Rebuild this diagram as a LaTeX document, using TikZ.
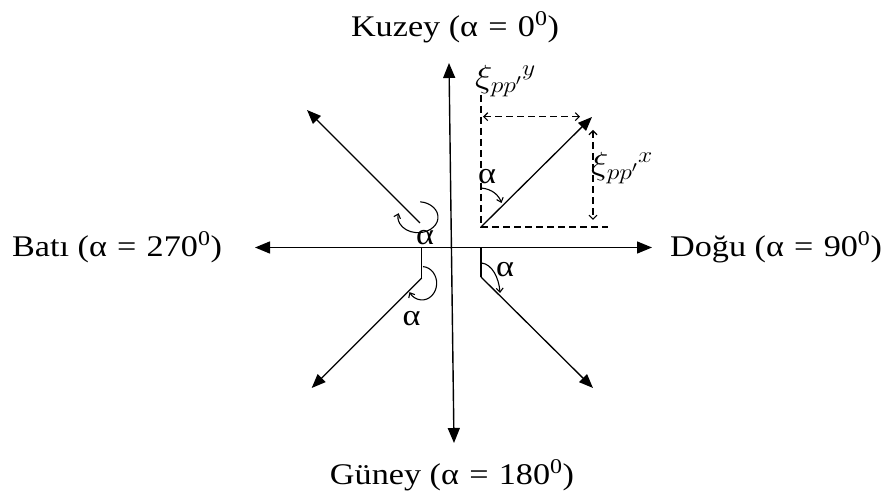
\RequirePackage{fix-cm}
\documentclass[tikz,border=0pt]{standalone}
\usepackage{fontspec}
\setmainfont{Liberation Serif}
\usetikzlibrary{arrows.meta}
\newcommand\myeq{\hspace{0.3em}=\hspace{0.3em}}
\tikzset{
  axisline/.style={line width=1.4pt,{Triangle[length=15pt,width=12pt]}-{Triangle[length=15pt,width=12pt]}},
  vecline/.style={line width=1.3pt,-{Triangle[length=14pt,width=11pt]}},
  plainline/.style={line width=1.3pt},
  dashline/.style={line width=1.1pt,dash pattern=on 7pt off 4pt},
  dimarrow/.style={dashline,{Straight Barb[length=4pt,width=8pt]}-{Straight Barb[length=4pt,width=8pt]}},
  anglearc/.style={line width=1.1pt,-{Straight Barb[length=4pt,width=7pt]}},
  lbl/.style={font=\fontsize{30}{36}\selectfont,inner sep=0pt,xscale=1.14},
  xilbl/.style={font=\fontsize{32}{38}\selectfont,inner sep=0pt,xscale=1.14,anchor=west},
}
\begin{document}
\begin{tikzpicture}[x=1pt,y=1pt]
\useasboundingbox (0,0) rectangle (887,492);
% axes
\coordinate (ntip) at (449,429);
\coordinate (stip) at (454,49);
\coordinate (wtip) at (255,244.5);
\coordinate (etip) at (652,244.5);
\draw[axisline] (wtip) -- (etip);
\draw[axisline] (stip) -- (ntip);
% direction labels
\node[lbl] (kuzey) at (455,464.5) {Kuzey (α\myeq 0\textsuperscript{0})};
\node[lbl] (guney) at (452,17) {Güney (α\myeq 180\textsuperscript{0})};
\node[lbl] (bati) at (117,244.5) {Batı (α\myeq 270\textsuperscript{0})};
\node[lbl] (dogu) at (776,244.5) {Doğu (α\myeq 90\textsuperscript{0})};
% NE vector with components
\coordinate (a0) at (481,265);
\coordinate (a1) at (592,375);
\coordinate (atop) at (481,397);
\coordinate (aright) at (608,265);
\coordinate (hl) at (483,375.3);
\coordinate (hr) at (580,375.3);
\coordinate (vt) at (593,362);
\coordinate (vb) at (593,272);
\draw[dashline] (atop) -- (a0) -- (aright);
\draw[vecline] (a0) -- (a1);
\draw[dimarrow] (hl) -- (hr);
\draw[dimarrow] (vt) -- (vb);
\node[xilbl] (xiy) at (475,411) {$\xi_{pp'}{}^{y}$};
\node[xilbl] (xix) at (591,324) {$\xi_{pp'}{}^{x}$};
\coordinate (nes) at (481,304);
\coordinate (nee) at (501.5,289);
\draw[anglearc] (nes) .. controls (493,303) and (499,296) .. (nee);
\node[lbl] (ane) at (487,315) {α};
% NW vector
\coordinate (b0) at (420,269);
\coordinate (b1) at (307,382);
\draw[vecline] (b0) -- (b1);
\draw[anglearc] (420.1,290.2) arc[start angle=84,end angle=-195,x radius=20,y radius=15.5];
\node[lbl] (anw) at (425,254) {α};
% SW vector
\coordinate (c00) at (421.7,244.5);
\coordinate (c0) at (421.7,214);
\coordinate (c1) at (311.7,104);
\draw[plainline] (c00) -- (c0);
\draw[vecline] (c0) -- (c1);
\draw[anglearc] (423,225.4) arc[start angle=86,end angle=-148,x radius=14.7,y radius=16.7];
\node[lbl] (asw) at (411.5,173.5) {α};
% SE vector
\coordinate (d00) at (481,244.5);
\coordinate (d0) at (481,215);
\coordinate (d1) at (593,104);
\draw[plainline] (d00) -- (d0);
\draw[vecline] (d0) -- (d1);
\coordinate (ses) at (481.5,229);
\coordinate (see) at (500,199);
\draw[anglearc] (ses) .. controls (492,228) and (499,214) .. (see);
\node[lbl] (ase) at (505,222) {α};
\end{tikzpicture}
\end{document}
